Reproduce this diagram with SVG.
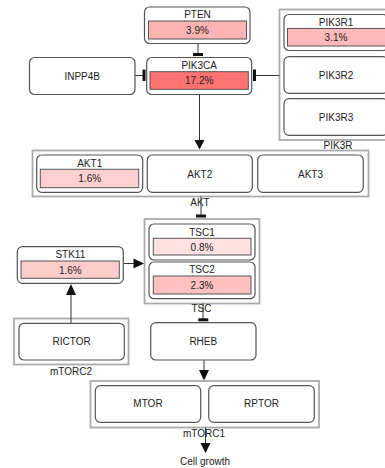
<svg xmlns="http://www.w3.org/2000/svg" width="385" height="468" viewBox="0 0 385 468">
<style>
text{font-family:"Liberation Sans",Arial,sans-serif;font-size:10px;fill:#222;text-anchor:middle;dominant-baseline:central}
.node{fill:#fff;stroke:#555;stroke-width:1.2}
.grp{fill:#fff;stroke:#aaa;stroke-width:1.8}
.bar{stroke:#555;stroke-width:1}
.ln{stroke:#333;stroke-width:1;fill:none}
.tb{fill:#111}
.ah{fill:#111}
</style>
<rect width="385" height="468" fill="#fff"/>
<g id="PIK3R">
<rect class="grp" x="279.5" y="9.5" width="113" height="130.5"/>
<text x="338" y="145.5">PIK3R</text>
</g>
<g id="AKT">
<rect class="grp" x="32.5" y="150.5" width="336" height="46"/>
<text x="200" y="202">AKT</text>
</g>
<g id="TSC">
<rect class="grp" x="144.5" y="219" width="115" height="84.5"/>
<text x="201.5" y="308.5">TSC</text>
</g>
<g id="mTORC2">
<rect class="grp" x="14" y="318.5" width="114.5" height="46"/>
<text x="71" y="371">mTORC2</text>
</g>
<g id="mTORC1">
<rect class="grp" x="90.5" y="381" width="228.5" height="46.5"/>
<text x="204" y="433.5">mTORC1</text>
</g>
<g id="connectors">
<line class="ln" x1="198" y1="43.5" x2="198" y2="54"/>
<rect class="tb" x="193" y="53" width="10" height="3"/>
<line class="ln" x1="135" y1="75.5" x2="143" y2="75.5"/>
<rect class="tb" x="142.5" y="69.5" width="3" height="11.5"/>
<line class="ln" x1="256" y1="75.5" x2="279.5" y2="75.5"/>
<rect class="tb" x="253" y="69.5" width="3" height="11.5"/>
<line class="ln" x1="199.5" y1="94.5" x2="199.5" y2="141"/>
<polygon class="ah" points="194.5,140 204.5,140 199.5,149.5"/>
<line class="ln" x1="201" y1="196.5" x2="201" y2="215"/>
<rect class="tb" x="196" y="214.5" width="10" height="3"/>
<line class="ln" x1="123.5" y1="263.5" x2="134" y2="263.5"/>
<polygon class="ah" points="133.5,258.5 133.5,268.5 144,263.5"/>
<line class="ln" x1="71" y1="323" x2="71" y2="294"/>
<polygon class="ah" points="66,295 76,295 71,284"/>
<line class="ln" x1="203" y1="303.5" x2="203" y2="319"/>
<rect class="tb" x="198.3" y="318.3" width="10" height="3"/>
<line class="ln" x1="204" y1="360" x2="204" y2="371"/>
<polygon class="ah" points="199,370 209,370 204,380.5"/>
<line class="ln" x1="205.5" y1="427.5" x2="205.5" y2="444"/>
<polygon class="ah" points="200.5,443 210.5,443 205.5,453"/>
</g>
<g id="PTEN">
<rect class="node" x="144.5" y="7" width="105.5" height="36.5" rx="5"/>
<text x="197.5" y="14.8">PTEN</text>
<rect class="bar" x="148.5" y="21" width="98" height="18" fill="#ffb4b4"/>
<text x="197.5" y="30.3">3.9%</text>
</g>
<g id="PIK3CA">
<rect class="node" x="146.7" y="57.5" width="105" height="37" rx="5"/>
<text x="199.2" y="65.3">PIK3CA</text>
<rect class="bar" x="150" y="71.7" width="98.3" height="17.6" fill="#ff7272"/>
<text x="199.2" y="80.5">17.2%</text>
</g>
<g id="INPP4B">
<rect class="node" x="29.5" y="57.5" width="105.5" height="37" rx="5"/>
<text x="82.2" y="76">INPP4B</text>
</g>
<g id="PIK3R1">
<rect class="node" x="284" y="14.5" width="104" height="36" rx="5"/>
<text x="336" y="22">PIK3R1</text>
<rect class="bar" x="287.5" y="28.5" width="100" height="17.5" fill="#ffb9b9"/>
<text x="336" y="37">3.1%</text>
</g>
<g id="PIK3R2">
<rect class="node" x="284" y="56.7" width="104" height="36.6" rx="5"/>
<text x="336" y="75">PIK3R2</text>
</g>
<g id="PIK3R3">
<rect class="node" x="284" y="98.7" width="104" height="36.6" rx="5"/>
<text x="336" y="117">PIK3R3</text>
</g>
<g id="AKT1">
<rect class="node" x="36.7" y="155" width="106" height="37.3" rx="5"/>
<text x="89.7" y="163.3">AKT1</text>
<rect class="bar" x="40.3" y="169.3" width="98.4" height="18.4" fill="#ffd0d0"/>
<text x="89.7" y="178.6">1.6%</text>
</g>
<g id="AKT2">
<rect class="node" x="147.3" y="155" width="105" height="37.3" rx="5"/>
<text x="199.8" y="174">AKT2</text>
</g>
<g id="AKT3">
<rect class="node" x="257.7" y="155" width="105.6" height="37.3" rx="5"/>
<text x="310.5" y="174">AKT3</text>
</g>
<g id="TSC1">
<rect class="node" x="149" y="224" width="106" height="36" rx="5"/>
<text x="202" y="232">TSC1</text>
<rect class="bar" x="153.3" y="238.3" width="97.7" height="16.7" fill="#ffe1e1"/>
<text x="202" y="247">0.8%</text>
</g>
<g id="TSC2">
<rect class="node" x="149" y="262" width="106" height="36.7" rx="5"/>
<text x="202" y="269.3">TSC2</text>
<rect class="bar" x="153.3" y="276" width="97.7" height="18" fill="#ffc0c0"/>
<text x="202" y="285.3">2.3%</text>
</g>
<g id="STK11">
<rect class="node" x="17.3" y="246.7" width="106" height="36.6" rx="5"/>
<text x="70.3" y="254.7">STK11</text>
<rect class="bar" x="21" y="261" width="98.3" height="17.3" fill="#ffcccc"/>
<text x="70.3" y="270">1.6%</text>
</g>
<g id="RICTOR">
<rect class="node" x="19" y="323.3" width="105.3" height="36.7" rx="5"/>
<text x="71.6" y="341.5">RICTOR</text>
</g>
<g id="RHEB">
<rect class="node" x="150.7" y="322.7" width="105.3" height="37.3" rx="5"/>
<text x="203.3" y="341">RHEB</text>
</g>
<g id="MTOR">
<rect class="node" x="95.3" y="385.7" width="105.4" height="36.6" rx="5"/>
<text x="148" y="403.5">MTOR</text>
</g>
<g id="RPTOR">
<rect class="node" x="208.7" y="385.7" width="105.6" height="36.6" rx="5"/>
<text x="261.5" y="403.5">RPTOR</text>
</g>
<g id="Cell_growth">
<text x="205" y="461.5">Cell growth</text>
</g>
</svg>
